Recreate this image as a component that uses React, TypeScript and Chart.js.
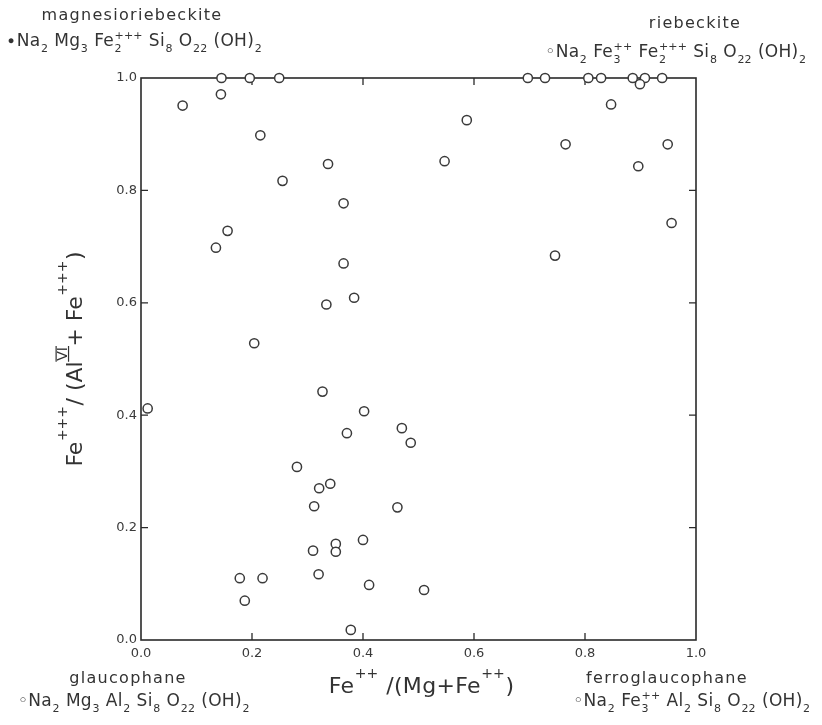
import React, { useEffect, useRef } from "react";
import { Chart, registerables } from "chart.js";

Chart.register(...registerables);

// Fe++/(Mg+Fe++) values
const xValues = [
  0.145, 0.196, 0.249, 0.144, 0.075, 0.215, 0.337, 0.255, 0.365, 0.156,
  0.135, 0.365, 0.384, 0.334, 0.204, 0.012, 0.327, 0.371, 0.281, 0.341,
  0.321, 0.312, 0.351, 0.351, 0.310, 0.320, 0.178, 0.219, 0.187, 0.378,
  0.402, 0.470, 0.486, 0.462, 0.400, 0.411, 0.510, 0.697, 0.728, 0.806,
  0.829, 0.886, 0.908, 0.899, 0.939, 0.847, 0.587, 0.547, 0.765, 0.949,
  0.896, 0.956, 0.746,
];
// Fe+++/(AlVI+Fe+++) values
const yValues = [
  1.0, 1.0, 1.0, 0.971, 0.951, 0.898, 0.847, 0.817, 0.777, 0.728,
  0.698, 0.670, 0.609, 0.597, 0.528, 0.412, 0.442, 0.368, 0.308, 0.278,
  0.270, 0.238, 0.171, 0.157, 0.159, 0.117, 0.110, 0.110, 0.070, 0.018,
  0.407, 0.377, 0.351, 0.236, 0.178, 0.098, 0.089, 1.0, 1.0, 1.0,
  1.0, 1.0, 1.0, 0.989, 1.0, 0.953, 0.925, 0.852, 0.882, 0.882,
  0.843, 0.742, 0.684,
];

const xTickValues = [0, 0.2, 0.4, 0.6, 0.8, 1.0];
const xTickLabels = ["0.0", "0.2", "0.4", "0.6", "0.8", "1.0"];
const yTickValues = [0, 0.2, 0.4, 0.6, 0.8, 1.0];
const yTickLabels = ["0.0", "0.2", "0.4", "0.6", "0.8", "1.0"];
const innerTickValues = [0.2, 0.4, 0.6, 0.8];

type Seg = { t: string; sup?: string; sub?: string; bars?: boolean };

const endMemberNames = ["magnesioriebeckite", "riebeckite", "glaucophane", "ferroglaucophane"];
const formulaMagnesioriebeckite: Seg[] = [
  { t: "∙Na", sub: "2" }, { t: " Mg", sub: "3" }, { t: " Fe", sub: "2", sup: "+++" },
  { t: " Si", sub: "8" }, { t: " O", sub: "22" }, { t: " (OH)", sub: "2" },
];
const formulaRiebeckite: Seg[] = [
  { t: "◦Na", sub: "2" }, { t: " Fe", sub: "3", sup: "++" }, { t: " Fe", sub: "2", sup: "+++" },
  { t: " Si", sub: "8" }, { t: " O", sub: "22" }, { t: " (OH)", sub: "2" },
];
const formulaGlaucophane: Seg[] = [
  { t: "◦Na", sub: "2" }, { t: " Mg", sub: "3" }, { t: " Al", sub: "2" },
  { t: " Si", sub: "8" }, { t: " O", sub: "22" }, { t: " (OH)", sub: "2" },
];
const formulaFerroglaucophane: Seg[] = [
  { t: "◦Na", sub: "2" }, { t: " Fe", sub: "3", sup: "++" }, { t: " Al", sub: "2" },
  { t: " Si", sub: "8" }, { t: " O", sub: "22" }, { t: " (OH)", sub: "2" },
];
const xTitle: Seg[] = [{ t: "Fe", sup: "++" }, { t: " /(Mg+Fe", sup: "++" }, { t: ")" }];
const yTitle: Seg[] = [
  { t: "Fe", sup: "+++" }, { t: "/ (Al", sup: "VI", bars: true }, { t: "+ Fe", sup: "+++" }, { t: ")" },
];

const FONT = '"DejaVu Sans", sans-serif';
const INK = "#333333";

type RichOpts = {
  size: number;
  ls: number;
  smallScale: number;
  supRaise: number;
  subDrop: number;
  align: "left" | "center";
};

function drawRich(ctx: CanvasRenderingContext2D, segs: Seg[], x: number, y: number, o: RichOpts) {
  const small = Math.round(o.size * o.smallScale);
  const c: any = ctx;
  const parts: any[] = [];
  let w = 0;
  for (const s of segs) {
    ctx.font = `${o.size}px ${FONT}`;
    c.letterSpacing = `${o.ls}px`;
    const bw = s.t ? ctx.measureText(s.t).width : 0;
    ctx.font = `${small}px ${FONT}`;
    c.letterSpacing = `${Math.max(0, o.ls * 0.5)}px`;
    const supW = s.sup ? ctx.measureText(s.sup).width : 0;
    const subW = s.sub ? ctx.measureText(s.sub).width : 0;
    parts.push({ s, x: w, bw, supW, subW });
    w += bw + Math.max(supW, subW) + (s.sup || s.sub ? 1 : 0);
  }
  const x0 = o.align === "center" ? x - w / 2 : x;
  ctx.fillStyle = INK;
  ctx.strokeStyle = INK;
  ctx.textAlign = "left";
  ctx.textBaseline = "alphabetic";
  for (const p of parts) {
    ctx.font = `${o.size}px ${FONT}`;
    c.letterSpacing = `${o.ls}px`;
    if (p.s.t) ctx.fillText(p.s.t, x0 + p.x, y);
    ctx.font = `${small}px ${FONT}`;
    c.letterSpacing = `${Math.max(0, o.ls * 0.5)}px`;
    const sx = x0 + p.x + p.bw + 0.5;
    if (p.s.sup) {
      const sy = y - o.size * o.supRaise;
      ctx.fillText(p.s.sup, sx, sy);
      if (p.s.bars) {
        ctx.lineWidth = 1.2;
        ctx.beginPath();
        ctx.moveTo(sx - 1, sy - small * 0.78);
        ctx.lineTo(sx + p.supW + 1, sy - small * 0.78);
        ctx.moveTo(sx - 1, sy + 1.5);
        ctx.lineTo(sx + p.supW + 1, sy + 1.5);
        ctx.stroke();
      }
    }
    if (p.s.sub) ctx.fillText(p.s.sub, sx, y + o.size * o.subDrop);
  }
  c.letterSpacing = "0px";
}

const nameOpts: RichOpts = { size: 16, ls: 1.3, smallScale: 0.6, supRaise: 0.4, subDrop: 0.3, align: "center" };
const formulaOpts: RichOpts = { size: 17, ls: 0.3, smallScale: 0.65, supRaise: 0.42, subDrop: 0.34, align: "center" };
const titleOpts: RichOpts = { size: 22, ls: 0.3, smallScale: 0.64, supRaise: 0.68, subDrop: 0.3, align: "center" };
const yTitleOpts: RichOpts = { size: 22, ls: 0, smallScale: 0.62, supRaise: 0.68, subDrop: 0.3, align: "center" };

const decorPlugin = {
  id: "decor",
  beforeDatasetsDraw(chart: any) {
    const { ctx, chartArea: a, scales } = chart;
    const xs = scales.x;
    const ys = scales.y;
    ctx.save();
    ctx.strokeStyle = "#2a2a2a";
    ctx.lineWidth = 1.6;
    ctx.strokeRect(a.left, a.top, a.right - a.left, a.bottom - a.top);
    ctx.lineWidth = 1.3;
    ctx.beginPath();
    for (const v of innerTickValues) {
      const px = xs.getPixelForValue(v);
      ctx.moveTo(px, a.bottom);
      ctx.lineTo(px, a.bottom - 7);
      ctx.moveTo(px, a.top);
      ctx.lineTo(px, a.top + 7);
      const py = ys.getPixelForValue(v);
      ctx.moveTo(a.left, py);
      ctx.lineTo(a.left + 7, py);
      ctx.moveTo(a.right, py);
      ctx.lineTo(a.right - 7, py);
    }
    ctx.stroke();
    ctx.restore();
  },
  afterDraw(chart: any) {
    const { ctx, chartArea: a } = chart;
    ctx.save();
    // end-member labels
    drawRich(ctx, [{ t: endMemberNames[0] }], 132, 20, nameOpts);
    drawRich(ctx, formulaMagnesioriebeckite, 134, 46, formulaOpts);
    drawRich(ctx, [{ t: endMemberNames[1] }], 695, 28, nameOpts);
    drawRich(ctx, formulaRiebeckite, 676, 57, formulaOpts);
    drawRich(ctx, [{ t: endMemberNames[2] }], 128, 683, nameOpts);
    drawRich(ctx, formulaGlaucophane, 134, 706, formulaOpts);
    drawRich(ctx, [{ t: endMemberNames[3] }], 667, 683, nameOpts);
    drawRich(ctx, formulaFerroglaucophane, 692, 706, formulaOpts);
    // axis titles
    drawRich(ctx, xTitle, (a.left + a.right) / 2 + 3, 693, titleOpts);
    ctx.save();
    ctx.translate(82, (a.top + a.bottom) / 2);
    ctx.rotate(-Math.PI / 2);
    drawRich(ctx, yTitle, 0, 0, yTitleOpts);
    ctx.restore();
    ctx.restore();
  },
};

export default function App() {
  const ref = useRef<HTMLCanvasElement | null>(null);
  useEffect(() => {
    document.body.style.margin = "0";
    const canvas = ref.current;
    if (!canvas) return;
    const points = xValues.map((x, i) => ({ x, y: yValues[i] }));
    const tickFont = { family: FONT, size: 13 };
    const chart = new Chart(canvas, {
      type: "scatter",
      data: {
        datasets: [
          {
            data: points,
            pointRadius: 4.6,
            pointBorderWidth: 1.5,
            pointBorderColor: "#3a3a3a",
            pointBackgroundColor: "#ffffff",
            pointHoverRadius: 4.6,
            showLine: false,
            clip: false,
          } as any,
        ],
      },
      options: {
        responsive: false,
        devicePixelRatio: 1,
        animation: false,
        events: [],
        layout: { padding: { top: 78, right: 126, bottom: 0, left: 0 } },
        plugins: { legend: { display: false }, tooltip: { enabled: false } },
        scales: {
          x: {
            type: "linear",
            position: "bottom",
            min: 0,
            max: 1,
            afterBuildTicks: (s: any) => {
              s.ticks = xTickValues.map((v) => ({ value: v }));
            },
            afterFit: (s: any) => {
              s.height = 85;
            },
            ticks: {
              autoSkip: false,
              maxRotation: 0,
              padding: 6,
              font: tickFont,
              color: "#3a3a3a",
              callback: (_v: any, i: number) => xTickLabels[i],
            },
            grid: { display: false, drawTicks: false },
            border: { display: false },
          },
          y: {
            type: "linear",
            position: "left",
            min: 0,
            max: 1,
            afterBuildTicks: (s: any) => {
              s.ticks = yTickValues.map((v) => ({ value: v }));
            },
            afterFit: (s: any) => {
              s.width = 141;
            },
            ticks: {
              autoSkip: false,
              padding: 4,
              font: tickFont,
              color: "#3a3a3a",
              callback: (_v: any, i: number) => yTickLabels[i],
            },
            grid: { display: false, drawTicks: false },
            border: { display: false },
          },
        },
      } as any,
      plugins: [decorPlugin],
    });
    return () => chart.destroy();
  }, []);
  return <canvas ref={ref} width={822} height={725} style={{ display: "block" }} />;
}
